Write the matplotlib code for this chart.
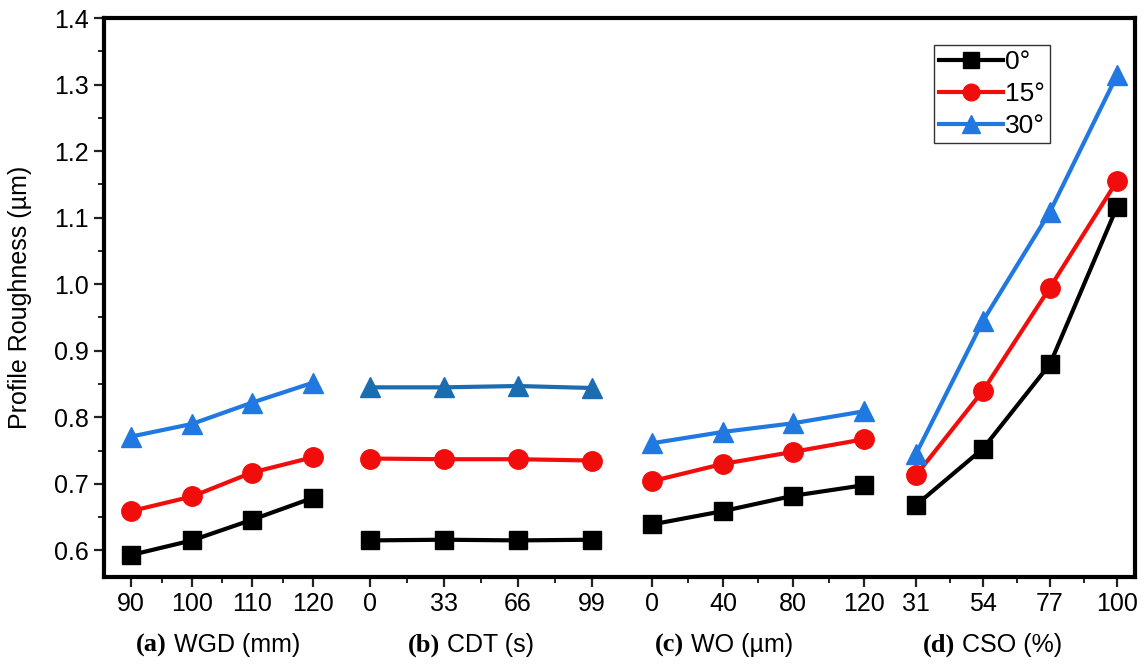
import matplotlib.pyplot as plt
from matplotlib.lines import Line2D

# --- Process parameter levels (tick labels) ---
wgd_levels = [90, 100, 110, 120]
cdt_levels = [0, 33, 66, 99]
wo_levels = [0, 40, 80, 120]
cso_levels = [31, 54, 77, 100]

group_tags = ['(a)', '(b)', '(c)', '(d)']
group_names = ['WGD (mm)', 'CDT (s)', 'WO (µm)', 'CSO (%)']
angles = ['0°', '15°', '30°']

# --- Profile roughness (µm) per group and incidence angle ---
wgd_0 = [0.593, 0.615, 0.646, 0.679]
wgd_15 = [0.659, 0.681, 0.717, 0.740]
wgd_30 = [0.771, 0.790, 0.822, 0.852]

cdt_0 = [0.615, 0.616, 0.615, 0.616]
cdt_15 = [0.738, 0.737, 0.737, 0.735]
cdt_30 = [0.845, 0.845, 0.847, 0.844]

wo_0 = [0.639, 0.659, 0.682, 0.698]
wo_15 = [0.704, 0.730, 0.748, 0.767]
wo_30 = [0.761, 0.778, 0.791, 0.809]

cso_0 = [0.668, 0.753, 0.880, 1.116]
cso_15 = [0.713, 0.840, 0.995, 1.155]
cso_30 = [0.745, 0.945, 1.109, 1.314]

# --- Layout: x positions of each group on a shared axis ---
group_x = [
    [131, 192, 252, 313],
    [370, 444, 518, 592],
    [652, 723, 793, 864],
    [916, 983, 1050, 1117],
]
label_x = [174, 447, 691, 962]

BLACK = '#000000'
RED = '#f20d0d'
BLUE = '#2078e0'
BLUE_DARK = '#1c6cb0'

plt.rcParams['font.family'] = ['Liberation Sans', 'DejaVu Sans']

W, H = 1145, 665
fig = plt.figure(figsize=(W / 100, H / 100), dpi=100)
ax = fig.add_axes([104 / W, 1 - 577 / H, (1135 - 104) / W, (577 - 18) / H])

levels = [wgd_levels, cdt_levels, wo_levels, cso_levels]
series = [
    (wgd_0, wgd_15, wgd_30),
    (cdt_0, cdt_15, cdt_30),
    (wo_0, wo_15, wo_30),
    (cso_0, cso_15, cso_30),
]

lw = 3.0
for gi, (xs, (y0, y15, y30)) in enumerate(zip(group_x, series)):
    blue = BLUE_DARK if gi == 1 else BLUE
    ax.plot(xs, y0, color=BLACK, lw=lw, marker='s', ms=13, zorder=3)
    ax.plot(xs, y15, color=RED, lw=lw, marker='o', ms=14, zorder=3)
    ax.plot(xs, y30, color=blue, lw=lw, marker='^', ms=15, zorder=3)

# ticks
xticks = [x for xs in group_x for x in xs]
xlabels = [str(v) for lv in levels for v in lv]
ax.set_xticks(xticks)
ax.set_xticklabels(xlabels)
minor = [(a + b) / 2 for xs in group_x for a, b in zip(xs[:-1], xs[1:])]
ax.set_xticks(minor, minor=True)

ax.set_xlim(104, 1135)
ax.set_ylim(0.56, 1.4)
ax.set_yticks([0.6, 0.7, 0.8, 0.9, 1.0, 1.1, 1.2, 1.3, 1.4])
ax.set_yticks([0.65, 0.75, 0.85, 0.95, 1.05, 1.15, 1.25, 1.35], minor=True)
ax.yaxis.set_major_formatter(plt.FormatStrFormatter('%.1f'))

ax.tick_params(which='major', direction='out', length=7, width=1.6,
               labelsize=18, pad=4, color='#222222')
ax.tick_params(which='minor', direction='out', length=4, width=1.4,
               color='#222222')
for s in ax.spines.values():
    s.set_linewidth(3)

ax.set_ylabel('Profile Roughness (µm)', fontsize=18)
ax.yaxis.set_label_coords(-0.070, 0.5)

# group captions below the axis
for tag, name, lx in zip(group_tags, group_names, label_x):
    fig.text((lx - 7) / W, 1 - 645 / H, tag, ha='right', va='center',
             fontsize=19, fontweight='bold', family='Liberation Serif')
    fig.text(lx / W, 1 - 645 / H, name, ha='left', va='center', fontsize=18)

handles = [
    Line2D([], [], color=BLACK, lw=lw, marker='s', ms=12),
    Line2D([], [], color=RED, lw=lw, marker='o', ms=12),
    Line2D([], [], color=BLUE, lw=lw, marker='^', ms=13),
]
leg = ax.legend(handles, angles, loc='upper left', bbox_to_anchor=(0.805, 0.952),
                fontsize=19, frameon=True, fancybox=False, framealpha=1,
                edgecolor='#333333', handlelength=2.4, handletextpad=0.1,
                borderpad=0.2, labelspacing=0.3, borderaxespad=0)
leg.get_frame().set_linewidth(1.0)

fig.savefig('out.png', dpi=100)
